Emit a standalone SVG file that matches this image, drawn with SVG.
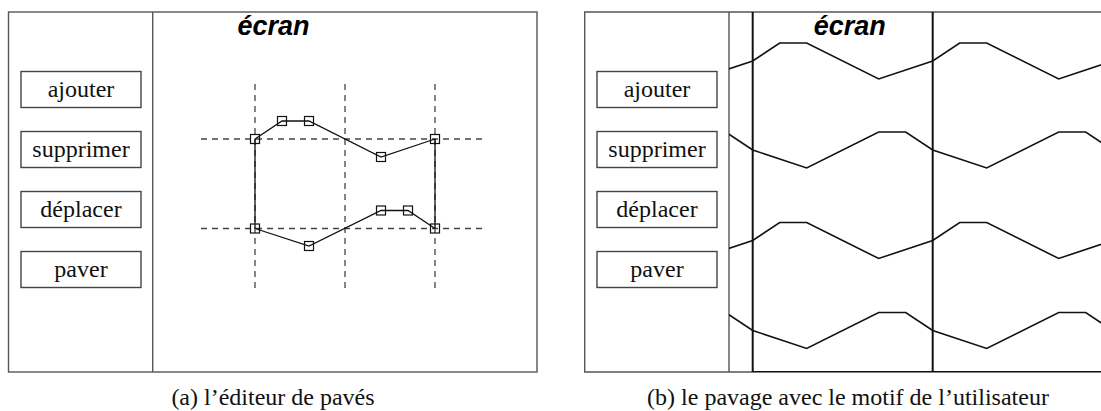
<svg xmlns="http://www.w3.org/2000/svg" width="1101" height="411" viewBox="0 0 1101 411">
<style>
.panel{fill:none;stroke:#555;stroke-width:1.4}
.btn rect{fill:#fff;stroke:#444;stroke-width:1.4}
.serif{font-family:"Liberation Serif","Times New Roman",Times,"DejaVu Serif",serif;font-size:24px;fill:#111;text-anchor:middle}
.title{font-family:"Liberation Sans",Arial,sans-serif;font-size:27px;font-weight:bold;font-style:italic;fill:#000;text-anchor:middle}
.grid{fill:none;stroke:#444;stroke-width:1.3;stroke-dasharray:6 5}
.curve{fill:none;stroke:#111;stroke-width:1.3}
.pt{fill:none;stroke:#111;stroke-width:1.2}
.wave{fill:none;stroke:#111;stroke-width:1.6}
.tile{fill:none;stroke:#111;stroke-width:2}
</style>
<defs>
<rect id="sq" x="-4.5" y="-4.5" width="9" height="9" class="pt"/>
<path id="wa" d="M572.7,0 L599.7,-18 L626.7,-18 L698.7,18 L752.7,0 L779.7,-18 L806.7,-18 L878.7,18 L932.7,0 L959.7,-18 L986.7,-18 L1058.7,18 L1112.7,0"/>
<path id="wb" d="M572.7,0 L626.7,18 L698.7,-18 L725.7,-18 L752.7,0 L806.7,18 L878.7,-18 L905.7,-18 L932.7,0 L986.7,18 L1058.7,-18 L1085.7,-18 L1112.7,0"/>
<clipPath id="clipR"><rect x="729" y="12" width="400" height="360"/></clipPath>
</defs>

<!-- Panel (a) -->
<g id="panel-a">
<rect class="panel" x="8.5" y="12" width="528.5" height="360"/>
<line class="panel" x1="152.7" y1="12" x2="152.7" y2="372"/>
<text class="title" x="273.5" y="35">écran</text>
</g>
<g id="a-ajouter" class="btn"><rect x="21" y="71.5" width="120" height="36"/><text class="serif" x="81" y="97">ajouter</text></g>
<g id="a-supprimer" class="btn"><rect x="21" y="131.5" width="120" height="36"/><text class="serif" x="81" y="157">supprimer</text></g>
<g id="a-deplacer" class="btn"><rect x="21" y="191.5" width="120" height="36"/><text class="serif" x="81" y="217">déplacer</text></g>
<g id="a-paver" class="btn"><rect x="21" y="251.5" width="120" height="36"/><text class="serif" x="81" y="277">paver</text></g>

<g id="editor-grid">
<line class="grid" x1="255" y1="84" x2="255" y2="293"/>
<line class="grid" x1="345" y1="84" x2="345" y2="293"/>
<line class="grid" x1="435" y1="84" x2="435" y2="293"/>
<line class="grid" x1="201" y1="139" x2="482" y2="139"/>
<line class="grid" x1="201" y1="228.5" x2="482" y2="228.5"/>
</g>
<g id="connectors">
<polyline class="curve" points="255,139 282,121 309,121 381,157 435,139"/>
<polyline class="curve" points="255,228.5 309,246 381,210.5 408,210.5 435,228.5"/>
<line class="curve" x1="255" y1="139" x2="255" y2="228.5"/>
<line class="curve" x1="435" y1="139" x2="435" y2="228.5"/>
</g>
<g id="points">
<use href="#sq" x="255" y="139"/><use href="#sq" x="282" y="121"/><use href="#sq" x="309" y="121"/><use href="#sq" x="381" y="157"/><use href="#sq" x="435" y="139"/>
<use href="#sq" x="255" y="228.5"/><use href="#sq" x="309" y="246"/><use href="#sq" x="381" y="210.5"/><use href="#sq" x="408" y="210.5"/><use href="#sq" x="435" y="228.5"/>
</g>
<text class="serif" x="273" y="405">(a) l’éditeur de pavés</text>

<!-- Panel (b) -->
<g id="panel-b">
<path class="panel" d="M1110,12 L584.7,12 L584.7,372 L1110,372"/>
<line class="panel" x1="729" y1="12" x2="729" y2="372"/>
<text class="title" x="849.7" y="35">écran</text>
</g>
<g id="b-ajouter" class="btn"><rect x="597" y="71.5" width="120" height="36"/><text class="serif" x="657" y="97">ajouter</text></g>
<g id="b-supprimer" class="btn"><rect x="597" y="131.5" width="120" height="36"/><text class="serif" x="657" y="157">supprimer</text></g>
<g id="b-deplacer" class="btn"><rect x="597" y="191.5" width="120" height="36"/><text class="serif" x="657" y="217">déplacer</text></g>
<g id="b-paver" class="btn"><rect x="597" y="251.5" width="120" height="36"/><text class="serif" x="657" y="277">paver</text></g>

<g id="tiling" clip-path="url(#clipR)">
<use href="#wa" class="wave" y="61"/>
<use href="#wb" class="wave" y="150"/>
<use href="#wa" class="wave" y="240.5"/>
<use href="#wb" class="wave" y="330.5"/>
<line class="tile" x1="752.7" y1="12" x2="752.7" y2="372"/>
<line class="tile" x1="932.7" y1="12" x2="932.7" y2="372"/>
<line class="tile" x1="752.7" y1="372" x2="1110" y2="372"/>
</g>
<text class="serif" x="848" y="405">(b) le pavage avec le motif de l’utilisateur</text>
</svg>
